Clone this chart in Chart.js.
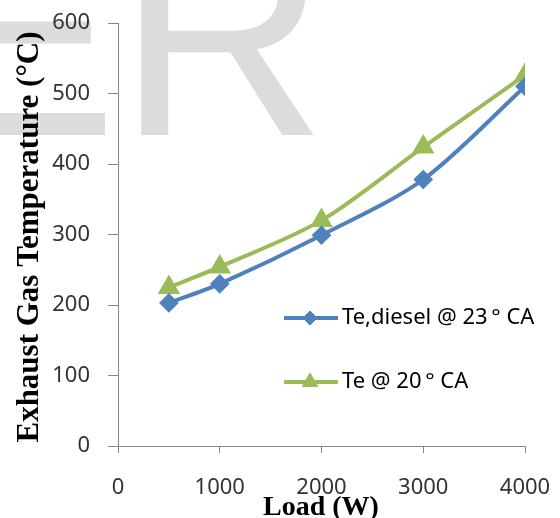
<!DOCTYPE html>
<html>
<head>
<meta charset="utf-8">
<script src="https://cdn.jsdelivr.net/npm/chart.js@4.4.1/dist/chart.umd.min.js"></script>
<style>
  html, body { margin: 0; padding: 0; background: #fff; }
  #wrap { width: 560px; height: 518px; position: relative; }
</style>
</head>
<body>
<div id="wrap"><canvas id="chart" width="560" height="518"></canvas></div>
<script>
// Chart data
const loads = [500, 1000, 2000, 3000, 4000];
const tempDiesel23 = [203, 230, 299, 378, 510];
const temp20 = [225, 254, 320, 424, 526];
const seriesLabels = ["Te,diesel @ 23\u2009\u00b0 CA", "Te @ 20\u2009\u00b0 CA"];
const xTicks = [0, 1000, 2000, 3000, 4000];
const yTicks = [0, 100, 200, 300, 400, 500, 600];

const xTitle = "Load (W)";
const yTitle = "Exhaust Gas Temperature (\u00b0C)";

const blue = "#4F81BD";
const green = "#9BBB59";
const axisGrey = "#868686";

function toPoints(ys) {
  return loads.map((x, i) => ({ x: x, y: ys[i] }));
}

// grey watermark behind the plot
const watermark = {
  id: "watermark",
  beforeDraw(chart) {
    const ctx = chart.ctx;
    ctx.save();
    ctx.fillStyle = "#fff";
    ctx.fillRect(0, 0, chart.width, chart.height);
    ctx.fillStyle = "#DCDCDC";
    ctx.font = '290px "Liberation Sans", Arial, sans-serif';
    ctx.textBaseline = "alphabetic";
    ctx.textAlign = "left";
    ctx.fillText("ER", -76, 135);
    ctx.restore();
  }
};

// axis titles and legend inside the plot
const extras = {
  id: "extras",
  afterDraw(chart) {
    const ctx = chart.ctx;
    ctx.save();
    ctx.fillStyle = "#000";
    ctx.font = 'bold 28px "Liberation Serif", "Times New Roman", serif';
    ctx.textAlign = "center";
    ctx.textBaseline = "alphabetic";
    ctx.fillText(xTitle, 321, 515);

    ctx.translate(38, 237);
    ctx.rotate(-Math.PI / 2);
    ctx.font = 'bold 31px "Liberation Serif", "Times New Roman", serif';
    ctx.fillText(yTitle, 0, 0);
    ctx.restore();

    // legend
    const rows = [318, 382];
    chart.data.datasets.forEach((ds, i) => {
      const y = rows[i];
      ctx.save();
      ctx.strokeStyle = ds.borderColor;
      ctx.lineWidth = 4;
      ctx.beginPath();
      ctx.moveTo(284, y);
      ctx.lineTo(338, y);
      ctx.stroke();
      ctx.fillStyle = ds.pointBackgroundColor;
      ctx.strokeStyle = ds.pointBorderColor;
      ctx.lineWidth = 1;
      Chart.helpers.drawPoint(ctx, {
        pointStyle: ds.pointStyle,
        radius: ds.pointRadius,
        rotation: 0,
        borderWidth: 1
      }, 310, y);
      ctx.fillStyle = "#000";
      ctx.font = '22px "Noto Sans", sans-serif';
      ctx.textAlign = "left";
      ctx.textBaseline = "middle";
      ctx.fillText(ds.label, 342, y);
      ctx.restore();
    });
  }
};

const ctx = document.getElementById("chart").getContext("2d");
new Chart(ctx, {
  type: "line",
  data: {
    datasets: [
      {
        label: seriesLabels[0],
        data: toPoints(tempDiesel23),
        borderColor: blue,
        backgroundColor: blue,
        pointBackgroundColor: blue,
        pointBorderColor: blue,
        pointStyle: "rectRot",
        pointRadius: 7,
        borderWidth: 4,
        tension: 0.3
      },
      {
        label: seriesLabels[1],
        data: toPoints(temp20),
        borderColor: green,
        backgroundColor: green,
        pointBackgroundColor: green,
        pointBorderColor: green,
        pointStyle: "triangle",
        pointRadius: 9,
        borderWidth: 4,
        tension: 0.3
      }
    ]
  },
  options: {
    responsive: false,
    animation: false,
    layout: { padding: { left: 0, right: 35, top: 23, bottom: 0 } },
    plugins: {
      legend: { display: false },
      tooltip: { enabled: false }
    },
    scales: {
      x: {
        type: "linear",
        min: 0,
        max: 4000,
        afterFit(scale) {
          scale.height = 72;
          scale.paddingLeft = 0;
          scale.paddingRight = 0;
        },
        afterBuildTicks(scale) { scale.ticks = xTicks.map(v => ({ value: v })); },
        grid: { drawOnChartArea: false, color: axisGrey, tickLength: 7 },
        border: { color: axisGrey, width: 1 },
        ticks: {
          color: "#333",
          font: { family: "Noto Sans", size: 22 },
          padding: 22,
          maxRotation: 0,
          callback: v => String(v)
        }
      },
      y: {
        min: 0,
        max: 600,
        afterFit(scale) {
          scale.width = 118;
          scale.paddingTop = 0;
          scale.paddingBottom = 0;
        },
        afterBuildTicks(scale) { scale.ticks = yTicks.map(v => ({ value: v })); },
        grid: { drawOnChartArea: false, color: axisGrey, tickLength: 10 },
        border: { color: axisGrey, width: 1 },
        ticks: {
          color: "#333",
          font: { family: "Noto Sans", size: 22 },
          padding: 18,
          callback: v => String(v)
        }
      }
    }
  },
  plugins: [watermark, extras]
});
</script>
</body>
</html>
